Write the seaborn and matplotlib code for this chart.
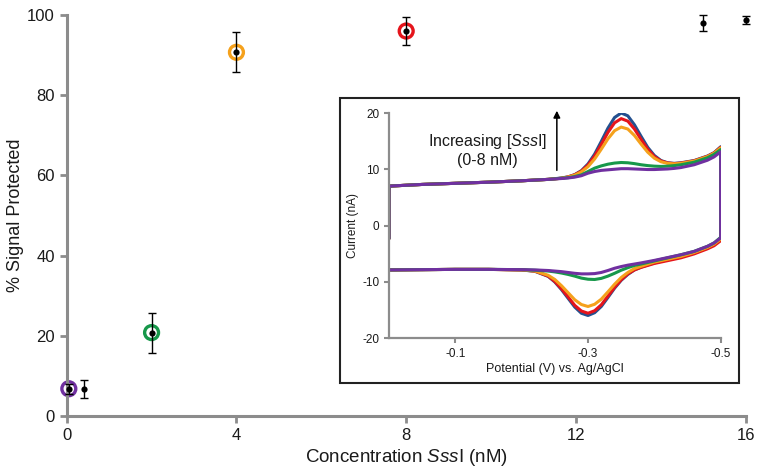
import pandas as pd
import seaborn as sns
import matplotlib.pyplot as plt
from matplotlib.patches import Rectangle

# main panel: % signal protected vs SssI concentration
conc_nm = [0.05, 0.4, 2, 4, 8, 15, 16]
signal_pct = [6.8, 6.8, 20.8, 90.7, 96.0, 97.9, 98.8]
signal_err = [1.2, 2.2, 5.0, 5.0, 3.4, 2.0, 1.0]
ringed = [0, 2, 3, 4]  # points that have a matching trace in the inset
ring_colors = ['#7030a0', '#17984a', '#f5a11c', '#e5141b']

# inset: cyclic voltammograms, forward branch then return branch
up_v = [0, 0, -0.05, -0.10, -0.15, -0.20, -0.24, -0.26, -0.27, -0.28, -0.29, -0.30,
        -0.31, -0.32, -0.33, -0.34, -0.35, -0.36, -0.37, -0.38, -0.39, -0.40, -0.41,
        -0.42, -0.43, -0.44, -0.46, -0.48, -0.49, -0.50]
down_v = [-0.50, -0.49, -0.48, -0.46, -0.44, -0.42, -0.40, -0.38, -0.37, -0.36, -0.35,
          -0.34, -0.33, -0.32, -0.31, -0.30, -0.29, -0.28, -0.27, -0.26, -0.25, -0.24,
          -0.22, -0.20, -0.15, -0.10, -0.05, 0]

blue_up = [-2.3, 7.0, 7.3, 7.5, 7.7, 7.95, 8.2, 8.45, 8.65, 9.05, 9.75, 10.95, 12.7, 14.95,
           17.3, 19.2, 20.0, 19.5, 17.9, 15.85, 13.9, 12.45, 11.55, 11.15, 11.05, 11.15,
           11.55, 12.35, 12.95, 14.0]
red_up = [-2.3, 7.0, 7.3, 7.5, 7.7, 7.95, 8.2, 8.4, 8.64, 9.02, 9.67, 10.75, 12.36, 14.4,
          16.55, 18.25, 19.0, 18.55, 17.15, 15.3, 13.56, 12.25, 11.47, 11.12, 11.0, 11.1,
          11.5, 12.3, 12.9, 13.9]
orange_up = [-2.3, 7.0, 7.3, 7.5, 7.7, 7.95, 8.2, 8.4, 8.62, 8.96, 9.53, 10.46, 11.83, 13.57,
             15.4, 16.85, 17.5, 17.15, 16.0, 14.47, 13.03, 11.96, 11.33, 11.05, 10.95, 11.05,
             11.45, 12.25, 12.85, 13.8]
green_up = [-2.3, 7.0, 7.3, 7.5, 7.7, 7.95, 8.2, 8.4, 8.5, 8.7, 9.0, 9.6, 10.2, 10.6,
            10.9, 11.1, 11.2, 11.15, 11.0, 10.8, 10.65, 10.55, 10.5, 10.55, 10.65, 10.8,
            11.25, 12.05, 12.65, 13.5]
purple_up = [-2.3, 7.0, 7.3, 7.5, 7.7, 7.95, 8.2, 8.35, 8.45, 8.6, 8.85, 9.3, 9.6, 9.8,
             9.9, 10.0, 10.1, 10.1, 10.05, 10.0, 9.95, 9.95, 10.0, 10.05, 10.15, 10.3,
             10.8, 11.6, 12.2, 13.1]

blue_down = [-2.5, -3.4, -4.0, -4.9, -5.6, -6.1, -6.65, -7.4, -7.9, -8.7, -9.75, -11.15,
             -12.8, -14.4, -15.5, -16.0, -15.6, -14.5, -12.95, -11.4, -10.05, -9.05, -8.15,
             -7.9, -7.8, -7.8, -7.85, -7.9]
red_down = [-2.7, -3.6, -4.15, -5.05, -5.75, -6.25, -6.75, -7.45, -7.9, -8.6, -9.65, -11.0,
            -12.55, -14.1, -15.15, -15.6, -15.2, -14.2, -12.7, -11.25, -9.95, -9.0, -8.1,
            -7.9, -7.8, -7.8, -7.85, -7.9]
orange_down = [-2.4, -3.3, -3.9, -4.8, -5.5, -6.0, -6.5, -7.25, -7.65, -8.35, -9.25, -10.45,
               -11.8, -13.1, -14.0, -14.4, -14.05, -13.2, -11.95, -10.7, -9.6, -8.85, -8.1,
               -7.9, -7.8, -7.8, -7.85, -7.9]
green_down = [-2.1, -3.1, -3.7, -4.6, -5.2, -5.75, -6.3, -6.85, -7.1, -7.5, -7.95, -8.5,
              -9.0, -9.4, -9.6, -9.55, -9.35, -9.0, -8.7, -8.45, -8.25, -8.1, -7.95,
              -7.85, -7.8, -7.8, -7.85, -7.9]
purple_down = [-2.2, -3.1, -3.7, -4.6, -5.2, -5.7, -6.2, -6.65, -6.85, -7.05, -7.3, -7.6,
               -8.0, -8.35, -8.55, -8.6, -8.6, -8.5, -8.35, -8.2, -8.1, -8.0, -7.9,
               -7.85, -7.8, -7.8, -7.85, -7.9]

TRACES = {
    'blue': (blue_up, blue_down, '#24508f'),
    'red': (red_up, red_down, '#e5141b'),
    'orange': (orange_up, orange_down, '#f5a11c'),
    'green': (green_up, green_down, '#17984a'),
    'purple': (purple_up, purple_down, '#7030a0'),
}

SPINE = '#8c8c8c'
TEXT = '#1a1a1a'

sns.set_style('ticks')
plt.rcParams['font.family'] = ['Liberation Sans', 'DejaVu Sans']
plt.rcParams['axes.unicode_minus'] = False
plt.rcParams['mathtext.fontset'] = 'custom'
plt.rcParams['mathtext.rm'] = 'Liberation Sans'
plt.rcParams['mathtext.it'] = 'Liberation Sans:italic'

fig = plt.figure(figsize=(7.64, 4.75), dpi=100)

# main axes
ax = fig.add_axes([66.7 / 764, 1 - 416 / 475, 679 / 764, 401 / 475])
ax.errorbar(conc_nm, signal_pct, yerr=signal_err, fmt='none', ecolor='black',
            elinewidth=1, capsize=3, capthick=1, clip_on=False, zorder=3)
sns.scatterplot(x=conc_nm, y=signal_pct, color='black', s=20, linewidth=0,
                ax=ax, zorder=4, clip_on=False)
ax.scatter([conc_nm[i] for i in ringed], [signal_pct[i] for i in ringed], s=100,
           facecolors='none', edgecolors=ring_colors, linewidths=2.4, zorder=2, clip_on=False)

ax.set_xlim(0, 16)
ax.set_ylim(0, 100)
ax.set_xticks([0, 4, 8, 12, 16])
ax.set_yticks([0, 20, 40, 60, 80, 100])
ax.set_xlabel(r'Concentration $\mathit{Sss}$I (nM)', fontsize=13.5, color=TEXT, labelpad=3)
ax.set_ylabel('% Signal Protected', fontsize=13, color=TEXT, labelpad=2)
sns.despine(ax=ax)
for side in ['left', 'bottom']:
    ax.spines[side].set_color(SPINE)
    ax.spines[side].set_linewidth(2.2)
ax.tick_params(direction='out', length=5, width=2, color=SPINE, labelcolor=TEXT,
               labelsize=12)

# box around the inset
fig.add_artist(Rectangle((340 / 764, 1 - 383 / 475), 399 / 764, 285 / 475,
                         transform=fig.transFigure, fill=False, ec='#222222', lw=1.5))

# inset axes
ax_in = fig.add_axes([389 / 764, 1 - 338 / 475, 331.7 / 764, 225 / 475])
ax_in.patch.set_alpha(0)
rows = []
for name, (up, down, _) in TRACES.items():
    for v, i in zip(up_v + down_v, up + down):
        rows.append({'potential': v, 'current': i, 'trace': name})
cv = pd.DataFrame(rows)
sns.lineplot(data=cv, x='potential', y='current', hue='trace', hue_order=list(TRACES),
             palette={k: c for k, (_, _, c) in TRACES.items()}, sort=False,
             estimator=None, legend=False, linewidth=2.2, ax=ax_in)

ax_in.set_xlim(0, -0.5)
ax_in.set_ylim(-20, 20)
ax_in.set_xticks([-0.1, -0.3, -0.5])
ax_in.set_xticklabels(['-0.1', '-0.3', '-0.5'])
ax_in.set_yticks([-20, -10, 0, 10, 20])
ax_in.set_xlabel('Potential (V) vs. Ag/AgCl', fontsize=9, color=TEXT, labelpad=2)
ax_in.set_ylabel('Current (nA)', fontsize=8.5, color=TEXT, labelpad=2)
sns.despine(ax=ax_in)
for side in ['left', 'bottom']:
    ax_in.spines[side].set_color(SPINE)
    ax_in.spines[side].set_linewidth(1.6)
ax_in.tick_params(direction='out', length=3.5, width=1.5, color=SPINE, labelcolor=TEXT,
                  labelsize=8.5)
ax_in.tick_params(axis='x', pad=4)

ax_in.annotate('', xy=(-0.253, 20.4), xytext=(-0.253, 9.8), annotation_clip=False,
               arrowprops=dict(arrowstyle='-|>', color='black', lw=1.1,
                               mutation_scale=10, shrinkA=0, shrinkB=0))
ax_in.text(-0.148, 13.4, 'Increasing [$\\mathit{Sss}$I]\n(0-8 nM)', ha='center',
           va='center', fontsize=11.5, color=TEXT, linespacing=1.2)

fig.savefig('out.png', dpi=100)
